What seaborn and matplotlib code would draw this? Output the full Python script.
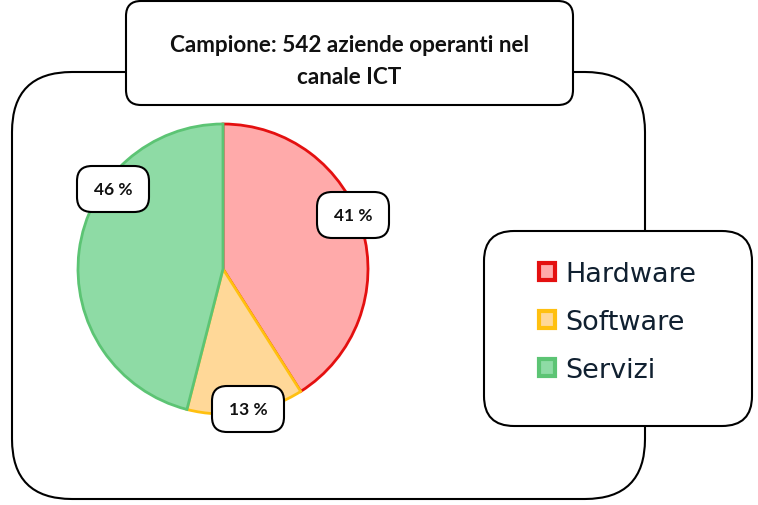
import matplotlib
matplotlib.use("Agg")
import matplotlib.pyplot as plt
from matplotlib.patches import FancyBboxPatch
import seaborn as sns

# ---- data ----
categories = ["Hardware", "Software", "Servizi"]
values = [41, 13, 46]
pct_labels = ["41 %", "13 %", "46 %"]
fill_colors = ["#FFAAAA", "#FFD898", "#8EDBA5"]
edge_colors = ["#E41010", "#FFC010", "#5CC474"]
title_lines = ["Campione: 542 aziende operanti nel", "canale ICT"]

sns.set_theme(style="white")
plt.rcParams["font.family"] = ["DejaVu Sans"]

W, H = 758, 506
fig = plt.figure(figsize=(W / 100, H / 100), dpi=100)
ax = fig.add_axes([0, 0, 1, 1])


def Y(y):
    return H - y


def rbox(x0, y0, x1, y1, r, lw=1.5, z=1):
    p = FancyBboxPatch((x0, Y(y1)), x1 - x0, y1 - y0,
                       boxstyle=f"round,pad=0,rounding_size={r}",
                       facecolor="white", edgecolor="black", linewidth=lw, zorder=z)
    ax.add_patch(p)


# big outer box
rbox(12, 73, 645, 500, 60, lw=1.5, z=1)

# pie
pal = sns.color_palette(fill_colors)
wedges, _ = ax.pie(values, colors=pal, startangle=90, counterclock=False,
                   center=(223, Y(270)), radius=145,
                   wedgeprops=dict(linewidth=2))
for w, ec in zip(wedges, edge_colors):
    w.set_edgecolor(ec)
    w.set_zorder(2)

# percent label boxes (layout positions)
label_pos = [(353, 216), (248, 410), (113, 190)]
for (cx, cy), lab in zip(label_pos, pct_labels):
    rbox(cx - 36, cy - 23, cx + 36, cy + 23, 15, lw=1.5, z=3)
    ax.text(cx, Y(cy), lab, ha="center", va="center", fontsize=12.5,
            fontweight="bold", family=["Lato", "DejaVu Sans"], color="#111111", zorder=4)

# title box
rbox(126, 2, 573, 106, 15, lw=1.5, z=5)
ax.text(349, Y(45), title_lines[0], ha="center", va="center", fontsize=16.2,
        fontweight="bold", family=["Lato", "DejaVu Sans"], color="#111111", zorder=6)
ax.text(349, Y(77), title_lines[1], ha="center", va="center", fontsize=16.2,
        fontweight="bold", family=["Lato", "DejaVu Sans"], color="#111111", zorder=6)

# legend box
rbox(484, 232, 752, 427, 30, lw=1.5, z=5)
leg = ax.legend(wedges, categories, loc="center left",
                bbox_to_anchor=(525 / W, Y(323) / H), frameon=False,
                fontsize=19.5, handlelength=0.6, handleheight=0.6,
                handletextpad=0.4, labelspacing=0.8, borderpad=0)
for t in leg.get_texts():
    t.set_color("#102030")
for h in leg.legend_handles:
    h.set_linewidth(3)
leg.set_zorder(7)

ax.set_xlim(0, W)
ax.set_ylim(0, H)
ax.set_aspect("equal")
ax.axis("off")

fig.savefig("out.png", dpi=100)
